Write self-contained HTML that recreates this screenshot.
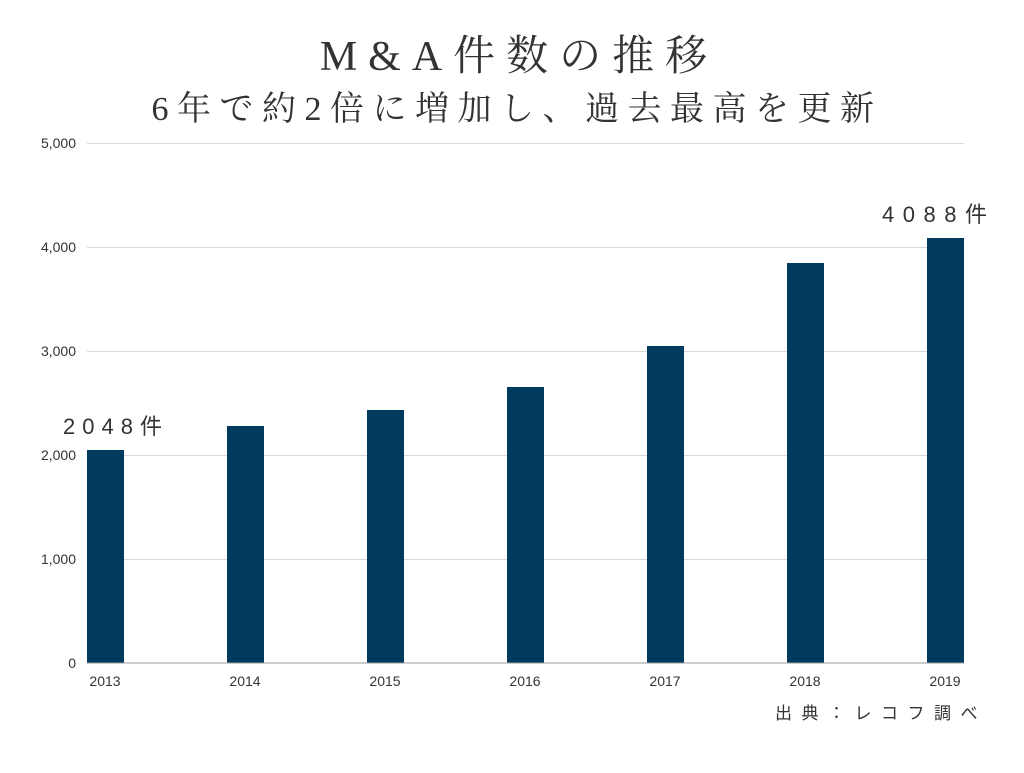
<!DOCTYPE html>
<html><head><meta charset="utf-8"><style>
body{margin:0;background:#fff;}
svg text{font-family:"Liberation Sans","Noto Sans CJK JP",sans-serif;}
.s{font-family:"Liberation Serif","Noto Serif CJK SC",serif !important;}
</style></head><body>
<svg width="1024" height="768" xmlns="http://www.w3.org/2000/svg">
<rect width="1024" height="768" fill="#fff"/>
<text class="s" x="519" y="70" text-anchor="middle" font-size="42" fill="#333" letter-spacing="11">M&amp;A件数の推移</text>
<text class="s" x="517" y="120" text-anchor="middle" font-size="34" fill="#333" letter-spacing="8.5">6年で約2倍に増加し、過去最高を更新</text>
<g stroke="#d9d9d9" stroke-width="1">
<line x1="87" x2="964" y1="143.5" y2="143.5"/>
<line x1="87" x2="964" y1="247.5" y2="247.5"/>
<line x1="87" x2="964" y1="351.5" y2="351.5"/>
<line x1="87" x2="964" y1="455.5" y2="455.5"/>
<line x1="87" x2="964" y1="559.5" y2="559.5"/>
</g>
<g font-size="14" fill="#333" text-anchor="end">
<text x="76" y="148">5,000</text>
<text x="76" y="252">4,000</text>
<text x="76" y="356">3,000</text>
<text x="76" y="460">2,000</text>
<text x="76" y="564">1,000</text>
<text x="76" y="668">0</text>
</g>
<g fill="#003a5e">
<rect x="87" y="450" width="37" height="213"/>
<rect x="227" y="426" width="37" height="237"/>
<rect x="367" y="410" width="37" height="253"/>
<rect x="507" y="387" width="37" height="276"/>
<rect x="647" y="346" width="37" height="317"/>
<rect x="787" y="263" width="37" height="400"/>
<rect x="927" y="238" width="37" height="425"/>
</g>
<line x1="87" x2="964" y1="663" y2="663" stroke="#999"/>
<g font-size="14" fill="#333" text-anchor="middle">
<text x="105" y="686">2013</text><text x="245" y="686">2014</text><text x="385" y="686">2015</text>
<text x="525" y="686">2016</text><text x="665" y="686">2017</text><text x="805" y="686">2018</text><text x="945" y="686">2019</text>
</g>
<text x="63" y="434" font-size="22" fill="#333" letter-spacing="7">2048件</text>
<text x="882" y="222" font-size="22" fill="#333" letter-spacing="8.5">4088件</text>
<text x="775" y="719" font-size="17" fill="#333" letter-spacing="9.5">出典：レコフ調べ</text>
</svg>
</body></html>
